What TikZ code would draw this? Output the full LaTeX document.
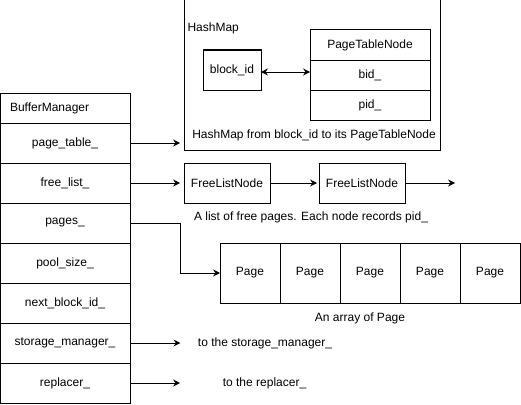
\documentclass[tikz,border=0pt]{standalone}
\usepackage{fontspec}
\setmainfont{Liberation Sans}
\usetikzlibrary{positioning,arrows.meta}

\begin{document}
\begin{tikzpicture}[x=1pt,y=-1pt,node distance=0pt,font=\fontsize{12}{14}\selectfont,
    >={Stealth[length=7pt,width=7pt,inset=2.5pt]},
    box/.style={draw, line width=1pt, inner sep=0pt, outer sep=0pt, minimum height=40pt},
    field/.style={box, minimum width=130pt},
    ptn/.style={box, minimum width=120pt, minimum height=30pt},
    flnode/.style={box, minimum width=86pt},
    page/.style={box, minimum width=60pt, minimum height=60pt},
    link/.style={line width=1pt, ->},
    link2/.style={line width=1pt, <->}]
  \useasboundingbox (0,0) rectangle (521,404);

  \node [field, minimum height=30pt, text width=110pt, align=left, anchor=north west] (bm) at (0,93) {BufferManager};
  \node [field, below=of bm] (pt) {page\_table\_};
  \node [field, below=of pt] (fl) {free\_list\_};
  \node [field, below=of fl] (pg) {pages\_};
  \node [field, below=of pg] (ps) {pool\_size\_};
  \node [field, below=of ps] (nb) {next\_block\_id\_};
  \node [field, below=of nb] (st) {storage\_manager\_};
  \node [field, below=of st] (rp) {replacer\_};

  \node [box, minimum width=256pt, minimum height=150pt, anchor=north west] (hm) at (184,0) {};
  \node [anchor=west] (hml) at (184,28) {HashMap};
  \node [box, minimum width=58pt, anchor=north west] (bk) at (203,50) {block\_id};
  \node [ptn, anchor=north west] (ptn) at (310,30) {PageTableNode};
  \node [ptn, below=of ptn] (bid) {bid\_};
  \node [ptn, below=of bid] (pid) {pid\_};
  \node (hmc) at (314,135) {HashMap from block\_id to its PageTableNode};

  \node [flnode, anchor=north west] (f1) at (184,163) {FreeListNode};
  \node [flnode, right=49pt of f1] (f2) {FreeListNode};
  \coordinate (fend) at (455,183);
  \node (flc) at (311,217) {A list of free pages. Each node records pid\_};

  \node [page, anchor=north west] (p1) at (220,243) {Page};
  \foreach \i/\j in {2/1,3/2,4/3,5/4}
    \node [page, right=of p\j] (p\i) {Page};
  \node (pc) at (360,318) {An array of Page};

  \node (sm) at (265,343) {to the storage\_manager\_};
  \node (rl) at (264.5,383) {to the replacer\_};

  \draw [link2] (bk.east |- 0,72) -- (bid.west |- 0,72);
  \draw [link, shorten >=4pt] (pt.east) -- (pt.east -| hm.west);
  \draw [link, shorten >=4pt] (fl.east) -- (f1.west);
  \draw [link, shorten >=2pt] (f1.east) -- (f2.west);
  \draw [link] (f2.east) -- (fend);
  \draw [link] (pg.east) -- ++(50,0) |- (p1.west);
  \draw [link, shorten >=14pt] (st.east) -- (st.east -| sm.west);
  \draw [link, shorten >=4pt] (rp.east) -- (rp.east -| hm.west);
\end{tikzpicture}
\end{document}
